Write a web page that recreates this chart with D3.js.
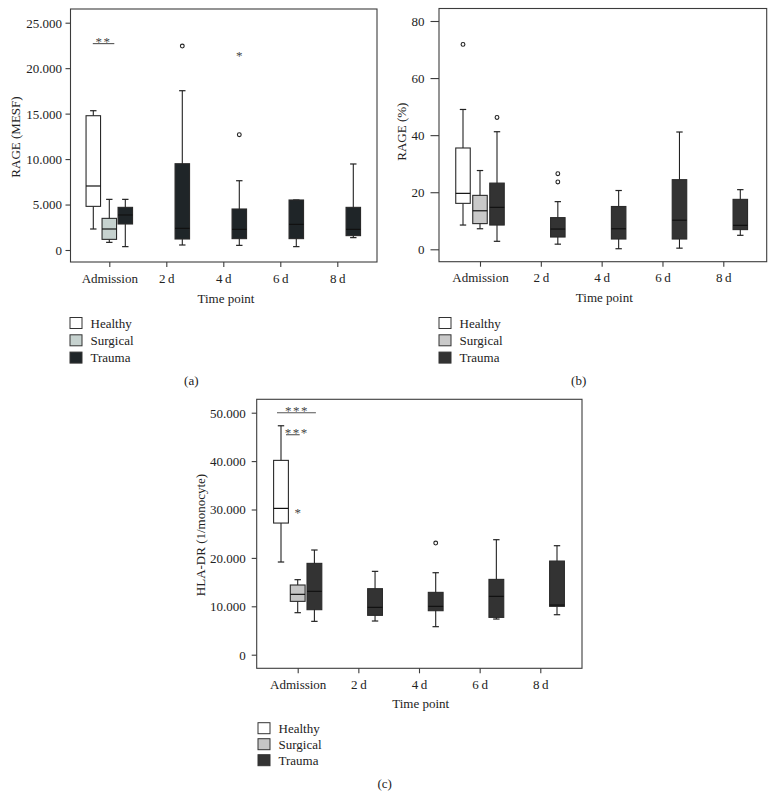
<!DOCTYPE html>
<html>
<head>
<meta charset="utf-8">
<script src="https://cdn.jsdelivr.net/npm/d3@7"></script>
<style>
  html, body { margin: 0; padding: 0; background: #fff; }
  svg { display: block; font-family: "Liberation Serif", "DejaVu Serif", serif; }
</style>
</head>
<body>
<svg id="chart" width="773" height="799"></svg>
<script>
// ---------------- DATA ----------------
const timepoints = ["Admission", "2\u2009d", "4\u2009d", "6\u2009d", "8\u2009d"];
const groups = ["Healthy", "Surgical", "Trauma"];
const xAxisTitle = "Time point";

// Panel (a): RAGE (MESF) — [time, group, min, q1, median, q3, max]
const rageMesfBoxes = [
  ["Admission", "Healthy", 2310, 4800, 7040, 14770, 15320],
  ["Admission", "Surgical", 840, 1170, 2310, 3480, 5570],
  ["Admission", "Trauma", 370, 2860, 3850, 4690, 5570],
  ["2\u2009d", "Trauma", 550, 1210, 2380, 9490, 17520],
  ["4\u2009d", "Trauma", 510, 1250, 2270, 4510, 7620],
  ["6\u2009d", "Trauma", 370, 1250, 2820, 5500, 5500],
  ["8\u2009d", "Trauma", 1360, 1580, 2270, 4690, 9460]
];
// [time, group, value, marker]
const rageMesfOutliers = [
  ["2\u2009d", "Trauma", 22430, "o"],
  ["4\u2009d", "Trauma", 21600, "*"],
  ["4\u2009d", "Trauma", 12680, "o"]
];
const rageMesfTicks = [0, 5000, 10000, 15000, 20000, 25000];
// [time, fromGroup, toGroup, value, label]
const rageMesfSignif = [["Admission", "Healthy", "Surgical", 22700, "**"]];

// Panel (b): RAGE (%)
const ragePctBoxes = [
  ["Admission", "Healthy", 8.5, 16.1, 19.6, 35.5, 49.0],
  ["Admission", "Surgical", 7.2, 9.0, 13.5, 18.9, 27.6],
  ["Admission", "Trauma", 2.8, 8.5, 14.7, 23.2, 41.2],
  ["2\u2009d", "Trauma", 1.8, 4.3, 7.1, 11.1, 16.7],
  ["4\u2009d", "Trauma", 0.2, 3.6, 7.2, 15.0, 20.6],
  ["6\u2009d", "Trauma", 0.4, 3.6, 10.2, 24.4, 41.1],
  ["8\u2009d", "Trauma", 4.9, 6.9, 8.4, 17.5, 20.9]
];
const ragePctOutliers = [
  ["Admission", "Healthy", 71.8, "o"],
  ["Admission", "Trauma", 46.2, "o"],
  ["2\u2009d", "Trauma", 26.5, "o"],
  ["2\u2009d", "Trauma", 23.6, "o"]
];
const ragePctTicks = [0, 20, 40, 60, 80];
const ragePctSignif = [];

// Panel (c): HLA-DR (1/monocyte)
const hlaBoxes = [
  ["Admission", "Healthy", 19150, 27200, 30230, 40150, 47300],
  ["Admission", "Surgical", 8680, 11020, 12470, 14400, 15500],
  ["Admission", "Trauma", 6890, 9300, 13090, 18870, 21630],
  ["2\u2009d", "Trauma", 6960, 8130, 9780, 13640, 17220],
  ["4\u2009d", "Trauma", 5790, 9090, 9990, 12880, 16940],
  ["6\u2009d", "Trauma", 7370, 7710, 12050, 15560, 23760],
  ["8\u2009d", "Trauma", 8260, 9990, 10260, 19350, 22520]
];
const hlaOutliers = [
  ["Admission", "Surgical", 29750, "*"],
  ["4\u2009d", "Trauma", 23070, "o"]
];
const hlaTicks = [0, 10000, 20000, 30000, 40000, 50000];
const hlaSignif = [
  ["Admission", "Healthy", "Trauma", 50000, "***"],
  ["Admission", "Healthy", "Surgical", 45450, "***"]
];

// ---------------- DRAWING ----------------
const svg = d3.select("#chart");
const locale = d3.formatLocale({ decimal: ",", thousands: ".", grouping: [3], currency: ["", ""] });
const fmt = locale.format(",");

function drawPanel(cfg) {
  const [fx0, fy0, fx1, fy1] = cfg.frame;
  const x = d3.scalePoint().domain(timepoints).range(cfg.xRange);
  const off = d3.scalePoint().domain(groups).range([-cfg.offset, cfg.offset]);
  const y = d3.scaleLinear().domain([cfg.ticks[0], cfg.ticks[cfg.ticks.length - 1]]).range(cfg.yRange);
  const fill = d3.scaleOrdinal().domain(groups).range(cfg.colors);
  const g = svg.append("g");
  const bw = cfg.boxWidth, cap = 3.2;
  const cx = (t, gr) => x(t) + off(gr);

  // frame
  g.append("rect").attr("x", fx0).attr("y", fy0)
    .attr("width", fx1 - fx0).attr("height", fy1 - fy0)
    .attr("fill", "none").attr("stroke", "#3c3c3c").attr("stroke-width", 1.1);

  // y axis
  const ya = g.append("g").attr("transform", `translate(${fx0},0)`)
    .call(d3.axisLeft(y).tickValues(cfg.ticks).tickSize(cfg.yTickLen).tickFormat(v => fmt(v)));
  ya.select(".domain").remove();
  ya.selectAll("line").attr("stroke", "#3c3c3c").attr("stroke-width", 1.1);
  ya.selectAll("text").attr("x", -cfg.yLabelGap).attr("dy", "0.34em")
    .attr("fill", "#222").style("font-size", "13px").style("font-family", "Liberation Serif");

  // x axis
  const xa = g.append("g").attr("transform", `translate(0,${fy1})`)
    .call(d3.axisBottom(x).tickSize(5));
  xa.select(".domain").remove();
  xa.selectAll("line").attr("stroke", "#3c3c3c").attr("stroke-width", 1.1);
  xa.selectAll("text").attr("y", 20.5).attr("dy", 0)
    .attr("fill", "#222").style("font-size", "13px").style("font-family", "Liberation Serif");

  // axis titles
  g.append("text").attr("x", cfg.xTitle[0]).attr("y", cfg.xTitle[1])
    .attr("text-anchor", "middle").attr("fill", "#222").style("font-size", "13px").text(xAxisTitle);
  g.append("text").attr("transform", `translate(${cfg.yTitle[0] + 4.5},${cfg.yTitle[1]}) rotate(-90)`)
    .attr("text-anchor", "middle").attr("fill", "#222").style("font-size", "13px").text(cfg.yTitleText);

  // boxes
  const bx = g.selectAll(".box").data(cfg.boxes).enter().append("g");
  bx.append("line")
    .attr("x1", d => cx(d[0], d[1])).attr("x2", d => cx(d[0], d[1]))
    .attr("y1", d => y(d[2])).attr("y2", d => y(d[6]))
    .attr("stroke", "#222").attr("stroke-width", 1.1);
  bx.append("line")
    .attr("x1", d => cx(d[0], d[1]) - cap).attr("x2", d => cx(d[0], d[1]) + cap)
    .attr("y1", d => y(d[2])).attr("y2", d => y(d[2]))
    .attr("stroke", "#222").attr("stroke-width", 1.2);
  bx.append("line")
    .attr("x1", d => cx(d[0], d[1]) - cap).attr("x2", d => cx(d[0], d[1]) + cap)
    .attr("y1", d => y(d[6])).attr("y2", d => y(d[6]))
    .attr("stroke", "#222").attr("stroke-width", 1.2);
  bx.append("rect")
    .attr("x", d => cx(d[0], d[1]) - bw / 2).attr("width", bw)
    .attr("y", d => y(d[5])).attr("height", d => Math.max(0.5, y(d[3]) - y(d[5])))
    .attr("fill", d => fill(d[1])).attr("stroke", "#2a2a2a").attr("stroke-width", 1.1);
  bx.append("line")
    .attr("x1", d => cx(d[0], d[1]) - bw / 2).attr("x2", d => cx(d[0], d[1]) + bw / 2)
    .attr("y1", d => y(d[4])).attr("y2", d => y(d[4]))
    .attr("stroke", "#111").attr("stroke-width", 1.2);

  // outliers
  const circ = cfg.outliers.filter(d => d[3] === "o");
  g.selectAll(".outc").data(circ).enter().append("circle")
    .attr("cx", d => cx(d[0], d[1])).attr("cy", d => y(d[2])).attr("r", 1.9)
    .attr("fill", "#fff").attr("stroke", "#222").attr("stroke-width", 1.1);
  const star = cfg.outliers.filter(d => d[3] === "*");
  g.selectAll(".outs").data(star).enter().append("text")
    .attr("x", d => cx(d[0], d[1])).attr("y", d => y(d[2]) + 6.5)
    .attr("text-anchor", "middle").attr("fill", "#444").style("font-size", "13px").text("*");

  // significance
  cfg.signif.forEach((s, i) => {
    const pad = cfg.sigPad[i];
    const a = cx(s[0], s[1]) + pad[0], b = cx(s[0], s[2]) + pad[1];
    const yy = y(s[3]);
    g.append("line").attr("x1", a).attr("x2", b).attr("y1", yy).attr("y2", yy)
      .attr("stroke", "#555").attr("stroke-width", 1.1);
    g.append("text").attr("x", (a + b) / 2 + pad[2]).attr("y", yy + 2.5)
      .attr("text-anchor", "middle").attr("fill", "#444").style("font-size", "13px")
      .style("letter-spacing", "1.5px").text(s[4]);
  });

  // legend
  const lg = g.append("g");
  groups.forEach((gr, i) => {
    const yy = cfg.legend[1] + i * cfg.legendStep;
    lg.append("rect").attr("x", cfg.legend[0]).attr("y", yy).attr("width", 12).attr("height", 11)
      .attr("fill", fill(gr)).attr("stroke", "#333").attr("stroke-width", 1);
    lg.append("text").attr("x", cfg.legend[0] + 20.5).attr("y", yy + 10)
      .attr("fill", "#222").style("font-size", "13px").text(gr);
  });

  // panel label
  g.append("text").attr("x", cfg.panelLabel[0]).attr("y", cfg.panelLabel[1])
    .attr("text-anchor", "middle").attr("fill", "#222").style("font-size", "13px").text(cfg.panelText);
}

drawPanel({
  frame: [70.5, 9, 377, 262],
  xRange: [109.3, 337.3], offset: 16, boxWidth: 14.5,
  ticks: rageMesfTicks, yRange: [250, 22.7], yTickLen: 5, yLabelGap: 8.5,
  colors: ["#ffffff", "#c6d2cf", "#1f2528"],
  boxes: rageMesfBoxes, outliers: rageMesfOutliers, signif: rageMesfSignif, sigPad: [[-0.5, 5, 0]],
  xTitle: [226, 302.7], yTitle: [15, 137], yTitleText: "RAGE (MESF)",
  legend: [70, 317.5], legendStep: 17.3,
  panelLabel: [191.3, 385], panelText: "(a)"
});

drawPanel({
  frame: [439, 8.5, 766.7, 261.7],
  xRange: [480, 723.3], offset: 17, boxWidth: 14.5,
  ticks: ragePctTicks, yRange: [249.3, 21], yTickLen: 8.5, yLabelGap: 14.5,
  colors: ["#ffffff", "#c9c9c9", "#333333"],
  boxes: ragePctBoxes, outliers: ragePctOutliers, signif: ragePctSignif, sigPad: [],
  xTitle: [604.3, 301.7], yTitle: [401.7, 131.7], yTitleText: "RAGE (%)",
  legend: [439, 317.5], legendStep: 17.3,
  panelLabel: [578.7, 385], panelText: "(b)"
});

drawPanel({
  frame: [256.7, 399.3, 582, 668.3],
  xRange: [297.7, 540.3], offset: 16.7, boxWidth: 14.8,
  ticks: hlaTicks, yRange: [654.7, 412.7], yTickLen: 5, yLabelGap: 11,
  colors: ["#ffffff", "#c6c6c6", "#333333"],
  boxes: hlaBoxes, outliers: hlaOutliers, signif: hlaSignif, sigPad: [[-4, 1.5, 0.5], [5, 2, 4]],
  xTitle: [420.7, 708.3], yTitle: [200, 535], yTitleText: "HLA-DR (1/monocyte)",
  legend: [258, 722.7], legendStep: 16,
  panelLabel: [384.7, 788.3], panelText: "(c)"
});
</script>
</body>
</html>
